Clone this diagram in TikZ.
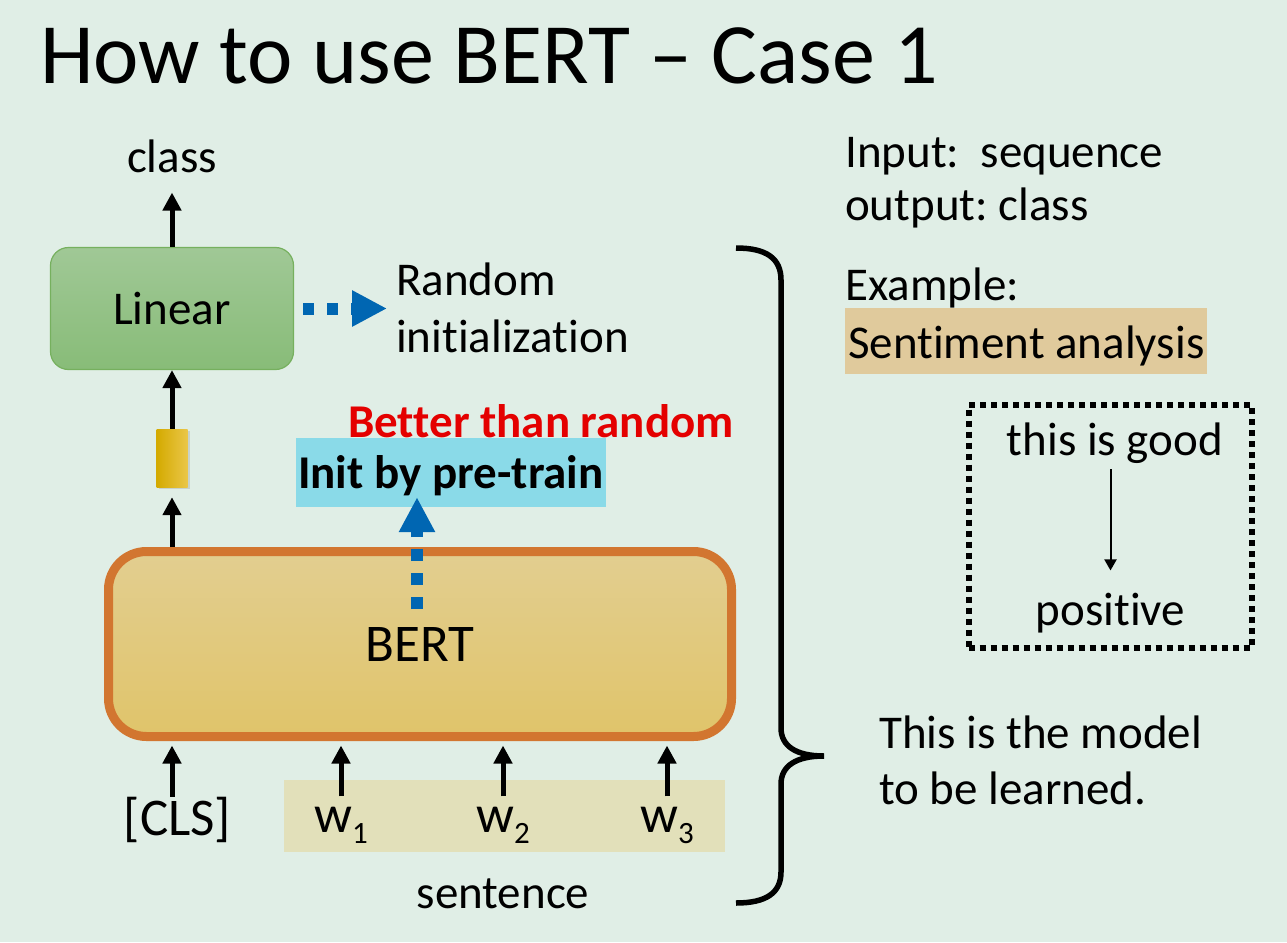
\documentclass[tikz,border=0pt]{standalone}
\usepackage{fontspec}
\setmainfont{Carlito}[Ligatures={TeX,NoCommon}]
\frenchspacing
\usetikzlibrary{arrows.meta,shadows}
\definecolor{slidebg}{RGB}{224,238,230}
\definecolor{lintop}{RGB}{160,200,150}
\definecolor{linbot}{RGB}{136,188,120}
\definecolor{linedge}{RGB}{118,176,94}
\definecolor{berttop}{RGB}{226,206,144}
\definecolor{bertbot}{RGB}{224,196,106}
\definecolor{bertedge}{RGB}{210,118,48}
\definecolor{vecleft}{RGB}{212,170,0}
\definecolor{vecright}{RGB}{234,198,72}
\definecolor{initblue}{RGB}{0,102,178}
\definecolor{initcyan}{RGB}{138,218,232}
\definecolor{betterred}{RGB}{228,0,0}
\definecolor{sentfill}{RGB}{226,224,186}
\definecolor{taskfill}{RGB}{224,202,156}
\tikzset{
txt/.style={
	inner sep=0pt,
	font=\fontsize{47}{56}\selectfont
},
bigtxt/.style={
	inner sep=0pt,
	font=\fontsize{53}{60}\selectfont
}
}
\tikzset{
uparrow/.style={
	line width=5pt,
	-{Triangle[length=18pt,width=18pt]}
},
bluedash/.style={
	draw=initblue,
	line width=12pt,
	dash pattern=on 11pt off 13pt,
	-{Triangle[length=35pt,width=34pt]}
},
thinarrow/.style={
	line width=2pt,
	-{Triangle[length=11pt,width=12pt]}
}
}
\tikzset{
linbox/.style={
	draw=linedge,
	line width=1.2pt,
	rounded corners=18pt,
	top color=lintop,
	bottom color=linbot,
	minimum width=243pt,
	minimum height=122pt,
	font=\fontsize{47}{56}\selectfont
},
bertbox/.style={
	draw=bertedge,
	line width=9pt,
	rounded corners=38pt,
	top color=berttop,
	bottom color=bertbot,
	minimum width=623pt,
	minimum height=185pt,
	font=\fontsize{53}{60}\selectfont
}
}
\begin{document}
\begin{tikzpicture}[x=1pt,y=-1pt]
		\useasboundingbox (0,0) rectangle (1287,942);
		\fill[slidebg] (0,0) rectangle (1287,942);
		\node[anchor=base west, inner sep=0pt, font=\fontsize{86}{96}\selectfont] (title) at (40,83) {How to use BERT – Case 1};
		\node[txt, anchor=base] (classlbl) at (172,172) {class};
		\node[linbox] (lin) at (172,308.5) {Linear};
		\node[txt, anchor=base west] (rand1) at (396,295) {Random};
		\node[txt, anchor=base west] (rand2) at (396,352) {initialization};
		\node[minimum width=31pt, minimum height=58pt, inner sep=0pt, left color=vecleft, right color=vecright, drop shadow={shadow xshift=2pt, shadow yshift=-2pt, opacity=0.25}] (vec) at (172,458) {};
		\node[bertbox] (bert) at (420,644) {BERT};
		\node[fill=sentfill, minimum width=441pt, minimum height=72pt, inner sep=0pt] (sentbox) at (504.5,816) {};
		\node[bigtxt, anchor=base] (cls) at (177.5,835) {[CLS]};
		\node[bigtxt, anchor=base] (w1) at (341,832) {w\raisebox{-11pt}{\fontsize{31}{31}\selectfont 1}};
		\node[bigtxt, anchor=base] (w2) at (503,832) {w\raisebox{-11pt}{\fontsize{31}{31}\selectfont 2}};
		\node[bigtxt, anchor=base] (w3) at (667,832) {w\raisebox{-11pt}{\fontsize{31}{31}\selectfont 3}};
		\node[txt, anchor=base] (sent) at (503,908) {sentence};
		\node[txt, anchor=base west, fill=initcyan, inner xsep=2pt, text height=50pt, text depth=19pt, font=\fontsize{47}{56}\selectfont\bfseries] (init) at (296,488) {Init by pre-train};
		\node[txt, anchor=base west, text=betterred, font=\fontsize{47}{56}\selectfont\bfseries] (better) at (348,437) {Better than random};
		\coordinate (initfrom) at (417,609);
		\draw[uparrow, shorten >=20pt] (lin.north) -- (lin.north |- classlbl.south);
		\draw[uparrow] (vec.north) -- (vec.north |- lin.south);
		\draw[uparrow, shorten >=10pt] (bert.north -| vec) -- (vec.south);
		\draw[uparrow, shorten >=4.5pt] (cls.north -| vec.south) -- (vec.south |- bert.south);
		\draw[uparrow, shorten >=4.5pt] ([yshift=10pt]w1.north) -- (w1.north |- bert.south);
		\draw[uparrow, shorten >=4.5pt] ([yshift=10pt]w2.north) -- (w2.north |- bert.south);
		\draw[uparrow, shorten >=4.5pt] ([yshift=10pt]w3.north) -- (w3.north |- bert.south);
		\draw[bluedash, shorten <=9pt, shorten >=9pt] (lin.east) -- (lin.east -| rand1.west);
		\draw[bluedash, dash pattern=on 12pt off 12pt, shorten >=-10pt] (initfrom) -- (initfrom |- init.south);
		\draw[line width=5.5pt] (736,248) .. controls (766,248) and (781,258) .. (781,280) -- (781,728) .. controls (781,746) and (796,756) .. (824,756) .. controls (796,756) and (781,766) .. (781,784) -- (781,872) .. controls (781,893) and (766,903) .. (736,903);
		\node[txt, anchor=base west] (input) at (845,167) {Input:\ \ sequence};
		\node[txt, anchor=base west] (output) at (845,220) {output: class};
		\node[txt, anchor=base west] (example) at (845,300) {Example:};
		\node[txt, anchor=base west, fill=taskfill, inner xsep=3pt, text height=50pt, text depth=16pt] (task) at (845,358) {Sentiment analysis};
		\node[draw, line width=6pt, dash pattern=on 6pt off 5pt, minimum width=283pt, minimum height=243pt] (examplebox) at (1110,526) {};
		\node[txt, anchor=base] (good) at (1115,455) {this is good};
		\node[txt, anchor=base] (positive) at (1110.5,625) {positive};
		\draw[thinarrow, shorten <=6pt, shorten >=22pt] (positive.north |- good.south) -- (positive.north);
		\node[txt, anchor=base west] (model1) at (879,748) {This is the model};
		\node[txt, anchor=base west] (model2) at (879,804) {to be learned.};
\end{tikzpicture}
\end{document}
